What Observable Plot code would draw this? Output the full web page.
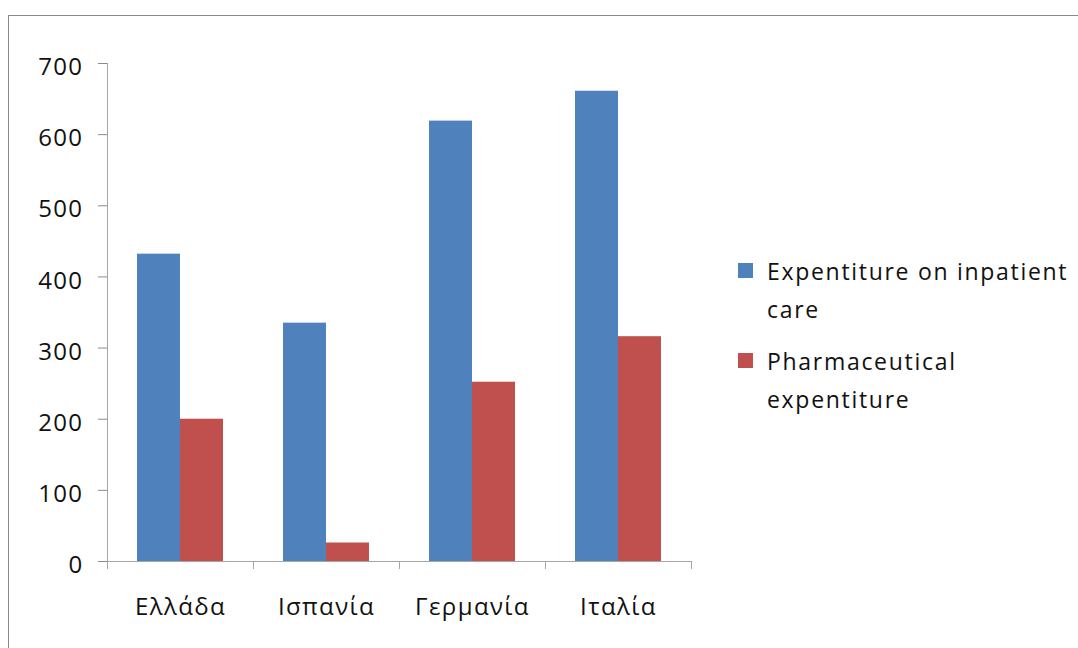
<!DOCTYPE html>
<html>
<head>
<meta charset="utf-8">
<script src="https://cdn.jsdelivr.net/npm/d3@7"></script>
<script src="https://cdn.jsdelivr.net/npm/@observablehq/plot@0.6"></script>
<style>
  body { margin: 0; background: #fff; }
  #wrap { position: relative; width: 1078px; height: 648px; overflow: hidden; font-family: "Open Sans", sans-serif; }
  #border { position: absolute; left: 8px; top: 15px; width: 1200px; height: 800px;
            border-left: 1px solid #8a8a8a; border-top: 1px solid #8a8a8a; }
  #chart { position: absolute; left: 0; top: 0; }
  #legend { position: absolute; left: 738px; top: 252px; width: 336px; }
  .item { display: flex; align-items: flex-start; margin-bottom: 14px; }
  .sw { flex: none; width: 15px; height: 15px; margin-top: 11px; margin-right: 14px; }
  .lab { font-size: 23px; line-height: 38px; letter-spacing: 1.7px; color: #111; }
  #chart svg text { font-size: 24px; letter-spacing: 1.4px; }
</style>
</head>
<body>
<div id="wrap">
  <div id="border"></div>
  <div id="chart"></div>
  <div id="legend"></div>
</div>
<script>
// Countries along the x axis
const countries = ["Ελλάδα", "Ισπανία", "Γερμανία", "Ιταλία"];
// Expenditure per country, two series
const inpatient = [432, 335, 619, 661];
const pharmaceutical = [200, 26, 252, 316];
const seriesNames = ["Expentiture on inpatient care", "Pharmaceutical expentiture"];
const seriesColors = ["#4F81BD", "#C0504D"];
const yTicks = [0, 100, 200, 300, 400, 500, 600, 700];

const rows = countries.map((c, i) => ({country: c, inpatient: inpatient[i], pharmaceutical: pharmaceutical[i]}));
const axisGray = "#a6a6a6";
const tickGray = "#8c8c8c";
const textColor = "#111";

const chart = Plot.plot({
  width: 1078,
  height: 648,
  marginLeft: 107,
  marginRight: 387,
  marginTop: 63,
  marginBottom: 87,
  style: {fontFamily: "'Open Sans', sans-serif", fontSize: "24px", background: "transparent", overflow: "visible"},
  x: {domain: countries, padding: 0, label: null},
  y: {domain: [0, 700], label: null},
  marks: [
    // grouped bars: inpatient on the left half of each band, pharmaceutical on the right
    Plot.barY(rows, {x: "country", y: "inpatient", fill: seriesColors[0], insetLeft: 30, insetRight: 73}),
    Plot.barY(rows, {x: "country", y: "pharmaceutical", fill: seriesColors[1], insetLeft: 73, insetRight: 30}),
    // value axis: line, tick marks, labels (labels sit slightly below their ticks)
    Plot.frame({anchor: "left", stroke: axisGray}),
    Plot.axisY({ticks: yTicks, tickSize: 9, stroke: tickGray, fill: "none"}),
    Plot.axisY({ticks: yTicks, tickSize: 9, tickPadding: 15, stroke: "none", fill: textColor, dy: 4}),
    // category axis: baseline, separators between categories, labels
    Plot.ruleY([0], {stroke: axisGray}),
    Plot.ruleX(countries, {x: d => d, dx: -73, y1: 0, y2: 0, insetBottom: -8, stroke: axisGray}),
    Plot.ruleX([countries[countries.length - 1]], {x: d => d, dx: 73, y1: 0, y2: 0, insetBottom: -8, stroke: axisGray}),
    Plot.axisX({tickSize: 0, tickPadding: 36, fill: textColor})
  ]
});
document.getElementById("chart").appendChild(chart);

const legend = document.getElementById("legend");
seriesNames.forEach((name, i) => {
  const item = document.createElement("div");
  item.className = "item";
  const sw = document.createElement("div");
  sw.className = "sw";
  sw.style.background = seriesColors[i];
  const lab = document.createElement("div");
  lab.className = "lab";
  lab.textContent = name;
  item.appendChild(sw);
  item.appendChild(lab);
  legend.appendChild(item);
});
</script>
</body>
</html>
